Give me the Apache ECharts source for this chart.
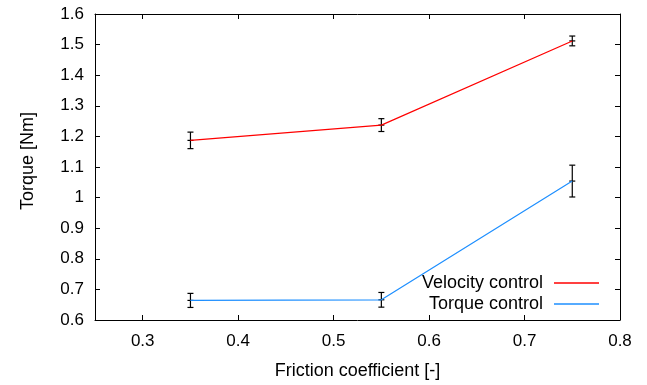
<!DOCTYPE html>
<html>
<head>
<meta charset="utf-8">
<script src="https://cdn.jsdelivr.net/npm/echarts@6/dist/echarts.min.js"></script>
<style>
  html, body { margin: 0; padding: 0; background: #fff; }
  #chart { width: 647px; height: 385px; }
</style>
</head>
<body>
<div id="chart"></div>
<script>
const friction = [0.35, 0.55, 0.75];
const velocityTorque = [1.187, 1.237, 1.512];
const velocityErr = [0.027, 0.021, 0.016];
const torqueTorque = [0.664, 0.666, 1.054];
const torqueErr = [0.023, 0.024, 0.052];
const xTicks = [0.3, 0.4, 0.5, 0.6, 0.7, 0.8];
const yTicks = [0.6, 0.7, 0.8, 0.9, 1.0, 1.1, 1.2, 1.3, 1.4, 1.5, 1.6];

const font = 'Liberation Sans';
const chart = echarts.init(document.getElementById('chart'));

const pairs = (ys) => friction.map((x, i) => [x, ys[i]]);
const errRows = (ys, es) => friction.map((x, i) => [x, ys[i], ys[i] - es[i], ys[i] + es[i]]);

function renderErr(params, api) {
  const p = api.coord([api.value(0), api.value(1)]);
  const lo = api.coord([api.value(0), api.value(2)]);
  const hi = api.coord([api.value(0), api.value(3)]);
  const w = 3;
  const style = { stroke: '#000', lineWidth: 1.2 };
  return {
    type: 'group',
    children: [
      { type: 'line', shape: { x1: lo[0], y1: lo[1], x2: hi[0], y2: hi[1] }, style },
      { type: 'line', shape: { x1: lo[0] - w, y1: lo[1], x2: lo[0] + w, y2: lo[1] }, style },
      { type: 'line', shape: { x1: hi[0] - w, y1: hi[1], x2: hi[0] + w, y2: hi[1] }, style },
      { type: 'line', shape: { x1: p[0] - w, y1: p[1], x2: p[0] + w, y2: p[1] }, style }
    ]
  };
}

const tickStyle = { inside: true, length: 5, lineStyle: { color: '#000', width: 1 } };
const lineStyleAxis = { show: true, lineStyle: { color: '#000', width: 1 } };
const fmt = v => String(+(+v).toFixed(1));

const option = {
  animation: false,
  textStyle: { fontFamily: font },
  grid: { left: 95, right: 27, top: 14, bottom: 64 },
  legend: {
    orient: 'vertical',
    right: 48,
    top: 274,
    padding: 0,
    align: 'right',
    icon: 'rect',
    itemWidth: 45,
    itemHeight: 1.5,
    itemGap: 3,
    textStyle: { fontFamily: font, fontSize: 18, color: '#000', padding: [0, 6, 0, 0] },
    data: ['Velocity control', 'Torque control']
  },
  xAxis: [
    {
      type: 'value', min: 0.25, max: 0.8,
      name: 'Friction coefficient [-]', nameLocation: 'middle', nameGap: 42,
      nameTextStyle: { fontFamily: font, fontSize: 18, color: '#000' },
      axisLine: lineStyleAxis,
      axisTick: Object.assign({ customValues: xTicks }, tickStyle),
      axisLabel: { customValues: xTicks, fontFamily: font, fontSize: 17, color: '#000', margin: 13, formatter: fmt },
      splitLine: { show: false }
    },
    {
      type: 'value', min: 0.25, max: 0.8, position: 'top',
      axisLine: lineStyleAxis,
      axisTick: Object.assign({ customValues: xTicks }, tickStyle),
      axisLabel: { show: false },
      splitLine: { show: false }
    }
  ],
  yAxis: [
    {
      type: 'value', min: 0.6, max: 1.6,
      name: 'Torque [Nm]', nameLocation: 'middle', nameGap: 58,
      nameTextStyle: { fontFamily: font, fontSize: 18, color: '#000', padding: [0, 0, 0, 12] },
      axisLine: lineStyleAxis,
      axisTick: Object.assign({ customValues: yTicks }, tickStyle),
      axisLabel: { customValues: yTicks, fontFamily: font, fontSize: 17, color: '#000', margin: 11, formatter: fmt },
      splitLine: { show: false }
    },
    {
      type: 'value', min: 0.6, max: 1.6, position: 'right',
      axisLine: lineStyleAxis,
      axisTick: Object.assign({ customValues: yTicks }, tickStyle),
      axisLabel: { show: false },
      splitLine: { show: false }
    }
  ],
  series: [
    {
      name: 'Velocity control', type: 'line', symbol: 'none',
      lineStyle: { color: '#ff0000', width: 1.2 }, itemStyle: { color: '#ff0000' },
      data: pairs(velocityTorque)
    },
    {
      name: 'Torque control', type: 'line', symbol: 'none',
      lineStyle: { color: '#1e8fff', width: 1.2 }, itemStyle: { color: '#1e8fff' },
      data: pairs(torqueTorque)
    },
    { type: 'custom', renderItem: renderErr, data: errRows(velocityTorque, velocityErr), z: 3 },
    { type: 'custom', renderItem: renderErr, data: errRows(torqueTorque, torqueErr), z: 3 }
  ]
};

chart.setOption(option);
</script>
</body>
</html>
